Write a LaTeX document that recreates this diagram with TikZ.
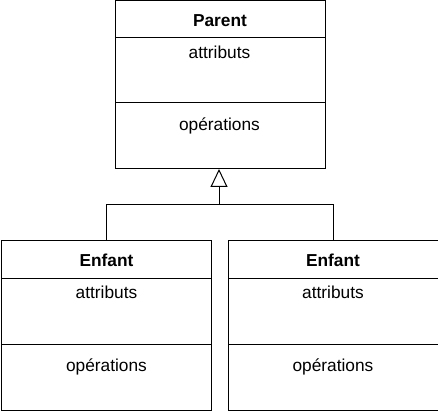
\documentclass[tikz,border=0pt]{standalone}
\usepackage{fontspec}
\setmainfont{Liberation Sans}
\usetikzlibrary{arrows.meta}
\begin{document}
\begin{tikzpicture}[x=1pt,y=-1pt,
  sect/.style={draw=black,line width=1pt,minimum width=210pt,inner sep=0pt,anchor=north,outer sep=0pt},
  lbl/.style={font=\fontsize{17.3}{20}\selectfont,inner sep=0pt,anchor=base},
  hdrlbl/.style={lbl,font=\fontsize{17.3}{20}\selectfont\bfseries}]
\useasboundingbox (0,0) rectangle (438,411);
% Parent
\node[sect,minimum height=37pt] (ph) at (220,1) {};
\node[sect,minimum height=65pt] (pa) at (ph.south) {};
\node[sect,minimum height=66pt] (po) at (pa.south) {};
\node[hdrlbl] (pht) at (220,26.7) {Parent};
\node[lbl] (pat) at (219.5,59) {attributs};
\node[lbl] (pot) at (219.5,130.5) {opérations};
% Child 1
\node[sect,minimum height=37.5pt] (ah) at (106.5,240.5) {};
\node[sect,minimum height=66pt] (aa) at (ah.south) {};
\node[sect,minimum height=66pt] (ao) at (aa.south) {};
\node[hdrlbl] (aht) at (106.5,266) {Enfant};
\node[lbl] (aat) at (106.5,298.5) {attributs};
\node[lbl] (aot) at (106.5,371) {opérations};
% Child 2
\node[sect,minimum height=37.5pt] (bh) at (333,240.5) {};
\node[sect,minimum height=66pt] (ba) at (bh.south) {};
\node[sect,minimum height=66pt] (bo) at (ba.south) {};
\node[hdrlbl] (bht) at (333,266) {Enfant};
\node[lbl] (bat) at (333,298.5) {attributs};
\node[lbl] (bot) at (333,371) {opérations};
% Connectors
\coordinate (j) at (219,205);
\draw[line width=1pt] (ah.north) |- (j);
\draw[line width=1pt] (bh.north) |- (j);
\draw[line width=1pt,-{Triangle[open,width=17pt,length=18pt,line width=1pt]}] (j) -- (j |- po.south);
\end{tikzpicture}
\end{document}
